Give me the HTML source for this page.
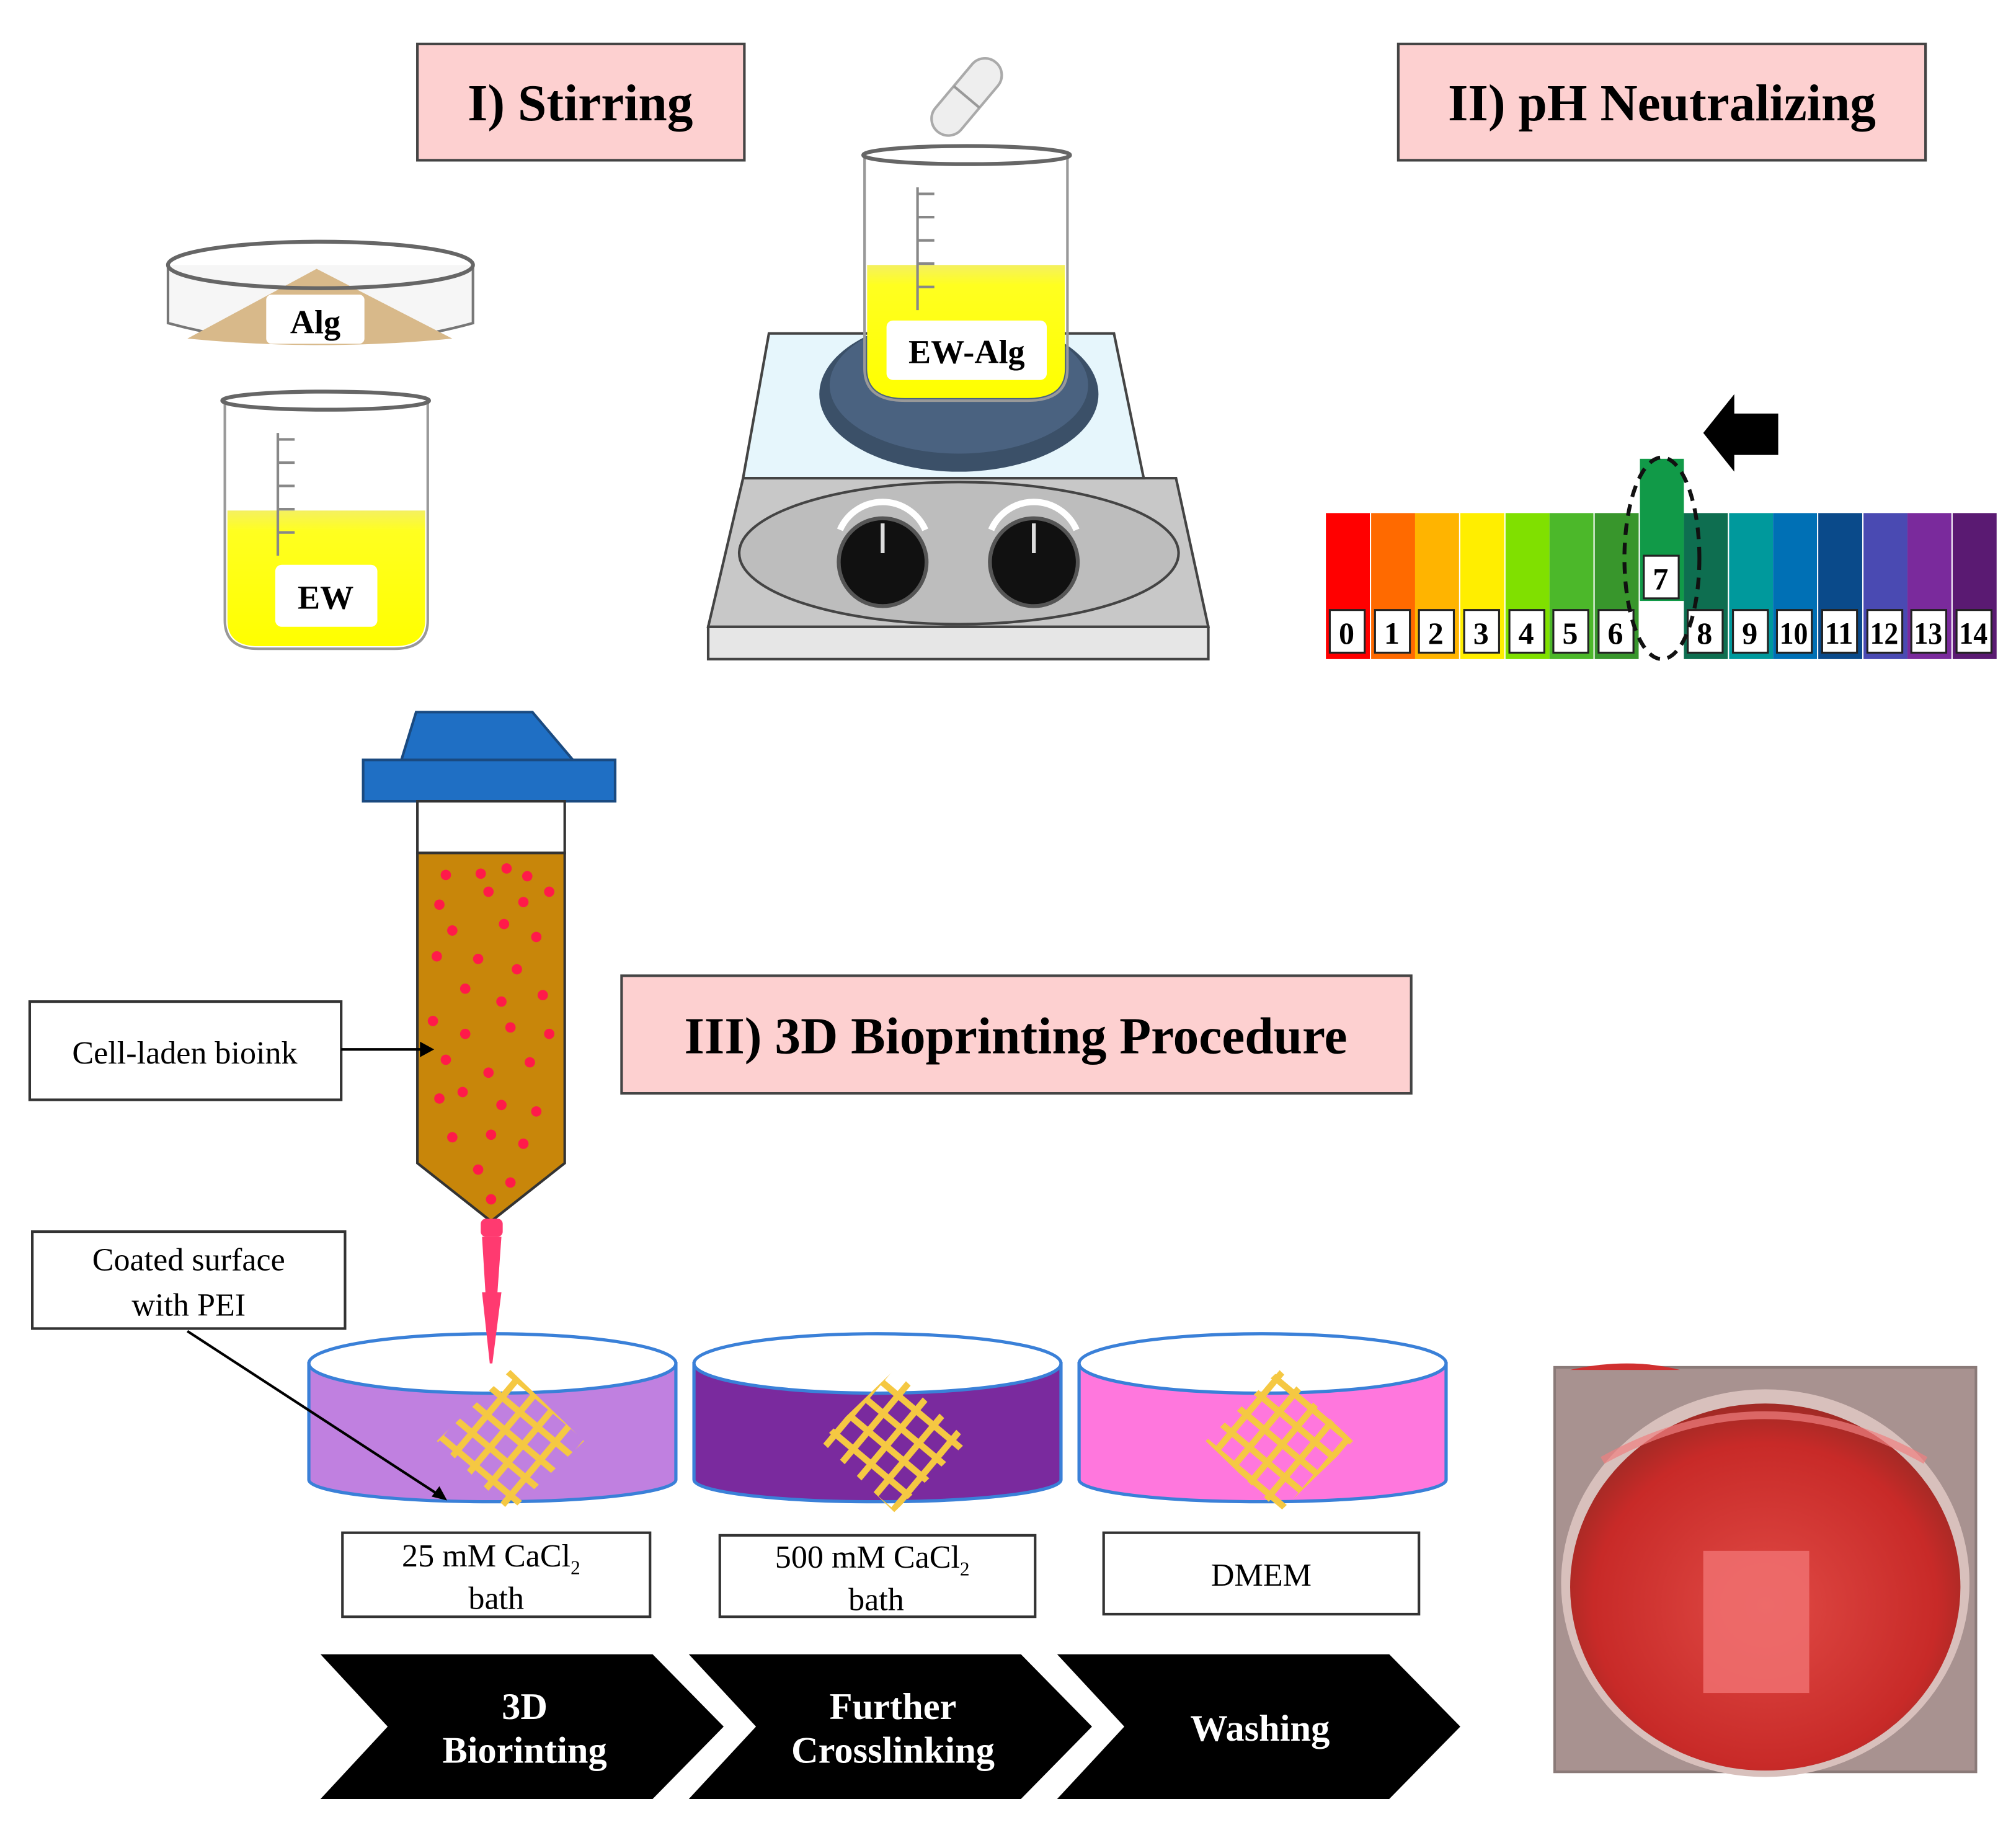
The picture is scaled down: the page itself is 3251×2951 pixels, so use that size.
<!DOCTYPE html>
<html><head><meta charset="utf-8"><style>
html,body{margin:0;padding:0;background:#fff;}
svg{display:block}
text{font-family:"Liberation Serif",serif;}
</style></head><body>
<svg width="3251" height="2951" viewBox="0 0 1560 1416" preserveAspectRatio="none" xmlns="http://www.w3.org/2000/svg">
<defs>
<linearGradient id="yl" x1="0" x2="0" y1="0" y2="1"><stop offset="0" stop-color="#f4f060"/><stop offset="0.15" stop-color="#ffff20"/><stop offset="1" stop-color="#ffff00"/></linearGradient>
<radialGradient id="photo" cx="0.5" cy="0.55" r="0.55"><stop offset="0" stop-color="#e04a45"/><stop offset="0.8" stop-color="#c82a28"/><stop offset="1" stop-color="#a02a25"/></radialGradient>
<pattern id="lat" width="18" height="18" patternUnits="userSpaceOnUse" patternTransform="rotate(40)"><rect x="0" y="0" width="18" height="5" fill="#f5c842"/><rect x="0" y="0" width="5" height="18" fill="#f5c842"/></pattern>
</defs>

<rect x="323" y="34" width="253" height="90" fill="#fdd0d0" stroke="#444" stroke-width="2"/>
<text x="449" y="93" text-anchor="middle" font-size="40" font-weight="bold">I) Stirring</text>
<rect x="1082" y="34" width="408" height="90" fill="#fdd0d0" stroke="#444" stroke-width="2"/>
<text x="1286" y="93" text-anchor="middle" font-size="40" font-weight="bold">II) pH Neutralizing</text>

<!-- Alg dish -->
<path d="M130 205 L130 250 Q248 282 366 250 L366 205" fill="#f6f6f6" stroke="#777" stroke-width="2"/>
<path d="M145 262 L245 208 L350 262 Q248 272 145 262 Z" fill="#d8b98a"/>
<ellipse cx="248" cy="205" rx="118" ry="18" fill="none" stroke="#666" stroke-width="3"/>
<rect x="206" y="228" width="76" height="38" rx="4" fill="#fff"/>
<text x="244" y="258" text-anchor="middle" font-size="26" font-weight="bold">Alg</text>

<!-- EW beaker -->
<path d="M176 395 L176 480 Q176 500 200 500 L305 500 Q329 500 329 480 L329 395 Z" fill="url(#yl)"/>
<path d="M174 310 L174 480 Q174 502 200 502 L305 502 Q331 502 331 480 L331 310" fill="none" stroke="#999" stroke-width="2"/>
<ellipse cx="252" cy="310" rx="80" ry="7" fill="none" stroke="#666" stroke-width="3"/>
<g stroke="#888" stroke-width="2"><line x1="215" y1="335" x2="215" y2="430"/><line x1="215" y1="340" x2="228" y2="340"/><line x1="215" y1="358" x2="228" y2="358"/><line x1="215" y1="376" x2="228" y2="376"/><line x1="215" y1="394" x2="228" y2="394"/><line x1="215" y1="412" x2="228" y2="412"/></g>
<rect x="213" y="437" width="79" height="48" rx="5" fill="#fff"/>
<text x="252" y="471" text-anchor="middle" font-size="26" font-weight="bold">EW</text>

<!-- Hotplate -->
<polygon points="548,485 935,485 935,510 548,510" fill="#e6e6e6" stroke="#444" stroke-width="2"/>
<polygon points="575,370 910,370 935,485 548,485" fill="#c8c8c8" stroke="#444" stroke-width="2"/>
<polygon points="595,258 862,258 885,370 575,370" fill="#e6f6fc" stroke="#444" stroke-width="2"/>
<ellipse cx="742" cy="428" rx="170" ry="55" fill="#bdbdbd" stroke="#444" stroke-width="2"/>
<circle cx="683" cy="435" r="34" fill="#111" stroke="#555" stroke-width="3"/>
<circle cx="800" cy="435" r="34" fill="#111" stroke="#555" stroke-width="3"/>
<path d="M650 410 A36 36 0 0 1 716 410" fill="none" stroke="#fff" stroke-width="5"/>
<path d="M767 410 A36 36 0 0 1 833 410" fill="none" stroke="#fff" stroke-width="5"/>
<line x1="683" y1="405" x2="683" y2="428" stroke="#ddd" stroke-width="3"/>
<line x1="800" y1="405" x2="800" y2="428" stroke="#ddd" stroke-width="3"/>
<ellipse cx="742" cy="305" rx="108" ry="60" fill="#3b5068"/>
<ellipse cx="742" cy="298" rx="100" ry="53" fill="#4a6280"/>

<!-- EW-Alg beaker -->
<path d="M671 205 L671 285 Q671 308 700 308 L795 308 Q824 308 824 285 L824 205 Z" fill="url(#yl)"/>
<path d="M669 120 L669 285 Q669 310 700 310 L795 310 Q826 310 826 285 L826 120" fill="none" stroke="#999" stroke-width="2"/>
<ellipse cx="748" cy="120" rx="80" ry="7" fill="none" stroke="#666" stroke-width="3"/>
<g stroke="#888" stroke-width="2"><line x1="710" y1="145" x2="710" y2="240"/><line x1="710" y1="150" x2="723" y2="150"/><line x1="710" y1="168" x2="723" y2="168"/><line x1="710" y1="186" x2="723" y2="186"/><line x1="710" y1="204" x2="723" y2="204"/><line x1="710" y1="222" x2="723" y2="222"/></g>
<rect x="686" y="248" width="124" height="46" rx="5" fill="#fff"/>
<text x="748" y="281" text-anchor="middle" font-size="26" font-weight="bold">EW-Alg</text>
<g transform="rotate(40 748 75)"><rect x="735" y="40" width="26" height="70" rx="13" fill="#eee" stroke="#aaa" stroke-width="2"/><line x1="735" y1="75" x2="761" y2="75" stroke="#999" stroke-width="2"/></g>

<!-- pH strip -->
<g>
<rect x="1026" y="397" width="34" height="113" fill="#ff0000"/>
<rect x="1061" y="397" width="34" height="113" fill="#ff6a00"/>
<rect x="1095" y="397" width="34" height="113" fill="#ffb400"/>
<rect x="1130" y="397" width="34" height="113" fill="#ffee00"/>
<rect x="1165" y="397" width="34" height="113" fill="#80e000"/>
<rect x="1199" y="397" width="34" height="113" fill="#4cb82a"/>
<rect x="1234" y="397" width="34" height="113" fill="#38962c"/>
<rect x="1269" y="355" width="34" height="110" fill="#119a48"/>
<rect x="1303" y="397" width="34" height="113" fill="#0e6e50"/>
<rect x="1338" y="397" width="34" height="113" fill="#00999c"/>
<rect x="1372" y="397" width="34" height="113" fill="#0070b5"/>
<rect x="1407" y="397" width="34" height="113" fill="#0a4a8a"/>
<rect x="1442" y="397" width="34" height="113" fill="#4a4ab2"/>
<rect x="1476" y="397" width="34" height="113" fill="#7a2a9c"/>
<rect x="1511" y="397" width="34" height="113" fill="#5a1a72"/>
</g>
<g fill="#fff" stroke="#222" stroke-width="1.5">
<rect x="1029" y="472" width="27" height="33"/><rect x="1064" y="472" width="27" height="33"/><rect x="1098" y="472" width="27" height="33"/><rect x="1133" y="472" width="27" height="33"/><rect x="1168" y="472" width="27" height="33"/><rect x="1202" y="472" width="27" height="33"/><rect x="1237" y="472" width="27" height="33"/><rect x="1272" y="430" width="27" height="33"/><rect x="1306" y="472" width="27" height="33"/><rect x="1341" y="472" width="27" height="33"/><rect x="1375" y="472" width="27" height="33"/><rect x="1410" y="472" width="27" height="33"/><rect x="1445" y="472" width="27" height="33"/><rect x="1479" y="472" width="27" height="33"/><rect x="1514" y="472" width="27" height="33"/>
</g>
<g font-size="24" font-weight="bold" text-anchor="middle">
<text x="1042" y="498">0</text><text x="1077" y="498">1</text><text x="1111" y="498">2</text><text x="1146" y="498">3</text><text x="1181" y="498">4</text><text x="1215" y="498">5</text><text x="1250" y="498">6</text><text x="1285" y="456">7</text><text x="1319" y="498">8</text><text x="1354" y="498">9</text><text x="1388" y="498" textLength="22" lengthAdjust="spacingAndGlyphs">10</text><text x="1423" y="498" textLength="22" lengthAdjust="spacingAndGlyphs">11</text><text x="1458" y="498" textLength="22" lengthAdjust="spacingAndGlyphs">12</text><text x="1492" y="498" textLength="22" lengthAdjust="spacingAndGlyphs">13</text><text x="1527" y="498" textLength="22" lengthAdjust="spacingAndGlyphs">14</text>
</g>
<ellipse cx="1286" cy="432" rx="29" ry="78" fill="none" stroke="#111" stroke-width="3" stroke-dasharray="9,6"/>
<polygon points="1318,335 1342,305 1342,320 1376,320 1376,352 1342,352 1342,365" fill="#000"/>

<!-- Syringe -->
<polygon points="322,551 412,551 445,590 310,590" fill="#1f6fc4" stroke="#1a4a80" stroke-width="2"/>
<rect x="281" y="588" width="195" height="32" fill="#1f6fc4" stroke="#1a4a80" stroke-width="2"/>
<rect x="323" y="620" width="114" height="40" fill="#fff" stroke="#333" stroke-width="2"/>
<polygon points="323,660 437,660 437,900 380,945 323,900" fill="#c8860a" stroke="#333" stroke-width="2"/>
<g fill="#ff1a4a">
<circle cx="345" cy="677" r="4"/><circle cx="372" cy="676" r="4"/><circle cx="392" cy="672" r="4"/><circle cx="408" cy="678" r="4"/><circle cx="340" cy="700" r="4"/><circle cx="378" cy="690" r="4"/><circle cx="405" cy="698" r="4"/><circle cx="425" cy="690" r="4"/><circle cx="350" cy="720" r="4"/><circle cx="390" cy="715" r="4"/><circle cx="415" cy="725" r="4"/><circle cx="338" cy="740" r="4"/><circle cx="370" cy="742" r="4"/><circle cx="400" cy="750" r="4"/><circle cx="360" cy="765" r="4"/><circle cx="388" cy="775" r="4"/><circle cx="420" cy="770" r="4"/><circle cx="335" cy="790" r="4"/><circle cx="360" cy="800" r="4"/><circle cx="395" cy="795" r="4"/><circle cx="425" cy="800" r="4"/><circle cx="345" cy="820" r="4"/><circle cx="378" cy="830" r="4"/><circle cx="410" cy="822" r="4"/><circle cx="340" cy="850" r="4"/><circle cx="358" cy="845" r="4"/><circle cx="388" cy="855" r="4"/><circle cx="415" cy="860" r="4"/><circle cx="350" cy="880" r="4"/><circle cx="380" cy="878" r="4"/><circle cx="405" cy="885" r="4"/><circle cx="370" cy="905" r="4"/><circle cx="395" cy="915" r="4"/><circle cx="380" cy="928" r="4"/>
</g>
<rect x="372" y="943" width="17" height="14" rx="4" fill="#ff3a70"/>
<polygon points="373,957 388,957 381,1055 379,1055" fill="#ff3a70"/>

<!-- Labels -->
<rect x="23" y="775" width="241" height="76" fill="#fff" stroke="#333" stroke-width="2"/>
<text x="143" y="823" text-anchor="middle" font-size="25">Cell-laden  bioink</text>
<line x1="264" y1="812" x2="328" y2="812" stroke="#000" stroke-width="2"/>
<polygon points="336,812 325,806 325,818" fill="#000"/>
<rect x="481" y="755" width="611" height="91" fill="#fdd0d0" stroke="#444" stroke-width="2"/>
<text x="786" y="815" text-anchor="middle" font-size="40" font-weight="bold">III) 3D Bioprinting Procedure</text>
<rect x="25" y="953" width="242" height="75" fill="#fff" stroke="#333" stroke-width="2"/>
<text x="146" y="983" text-anchor="middle" font-size="25">Coated surface</text>
<text x="146" y="1018" text-anchor="middle" font-size="25">with PEI</text>

<!-- Dishes -->
<g stroke="#3a80d8" stroke-width="2.5">
<path d="M239 1055 L239 1145 A142 17 0 0 0 523 1145 L523 1055 Z" fill="#c080e0"/>
<ellipse cx="381" cy="1055" rx="142" ry="23" fill="#fff"/>
<path d="M537 1055 L537 1145 A142 17 0 0 0 821 1145 L821 1055 Z" fill="#7a2a9e"/>
<ellipse cx="679" cy="1055" rx="142" ry="23" fill="#fff"/>
<path d="M835 1055 L835 1145 A142 17 0 0 0 1119 1145 L1119 1055 Z" fill="#ff77dd"/>
<ellipse cx="977" cy="1055" rx="142" ry="23" fill="#fff"/>
</g>
<polygon points="373,1000 388,1000 381,1055 379,1055" fill="#ff3a70"/>
<g fill="url(#lat)">
<polygon points="395,1060 452,1115 395,1170 338,1115"/>
<polygon points="692,1060 749,1115 692,1170 635,1115"/>
<polygon points="990,1060 1047,1115 990,1170 933,1115"/>
</g>
<line x1="145" y1="1030" x2="340" y2="1157" stroke="#000" stroke-width="2"/>
<polygon points="346,1161 334,1158 340,1150" fill="#000"/>

<rect x="265" y="1186" width="238" height="65" fill="#fff" stroke="#333" stroke-width="2"/>
<text x="380" y="1212" text-anchor="middle" font-size="25">25 mM CaCl<tspan font-size="15" dy="6">2</tspan></text>
<text x="384" y="1245" text-anchor="middle" font-size="25">bath</text>
<rect x="557" y="1188" width="244" height="63" fill="#fff" stroke="#333" stroke-width="2"/>
<text x="675" y="1213" text-anchor="middle" font-size="25">500 mM CaCl<tspan font-size="15" dy="6">2</tspan></text>
<text x="678" y="1246" text-anchor="middle" font-size="25">bath</text>
<rect x="854" y="1186" width="244" height="63" fill="#fff" stroke="#333" stroke-width="2"/>
<text x="976" y="1227" text-anchor="middle" font-size="25">DMEM</text>

<!-- Chevrons -->
<polygon points="248,1280 505,1280 560,1336 505,1392 248,1392 300,1336" fill="#000"/>
<polygon points="533,1280 790,1280 845,1336 790,1392 533,1392 585,1336" fill="#000"/>
<polygon points="818,1280 1075,1280 1130,1336 1075,1392 818,1392 870,1336" fill="#000"/>
<g fill="#fff" font-size="29" font-weight="bold" text-anchor="middle">
<text x="406" y="1330">3D</text><text x="406" y="1364">Biorinting</text>
<text x="691" y="1330">Further</text><text x="691" y="1364">Crosslinking</text>
<text x="975" y="1347">Washing</text>
</g>

<!-- Photo -->
<rect x="1202" y="1057" width="328" height="315" fill="#8a7a78"/>
<rect x="1204" y="1059" width="324" height="311" fill="#a89290"/>
<ellipse cx="1366" cy="1225" rx="158" ry="150" fill="#d8c0bc"/>
<ellipse cx="1366" cy="1228" rx="151" ry="142" fill="url(#photo)"/>
<path d="M1240 1130 Q1366 1060 1490 1130" fill="none" stroke="#f08080" stroke-width="6" opacity="0.7"/>
<rect x="1318" y="1200" width="82" height="110" fill="#f07070" opacity="0.85"/>
<path d="M1215 1060 Q1260 1050 1300 1060" fill="#d03030"/>
</svg>
</body></html>
